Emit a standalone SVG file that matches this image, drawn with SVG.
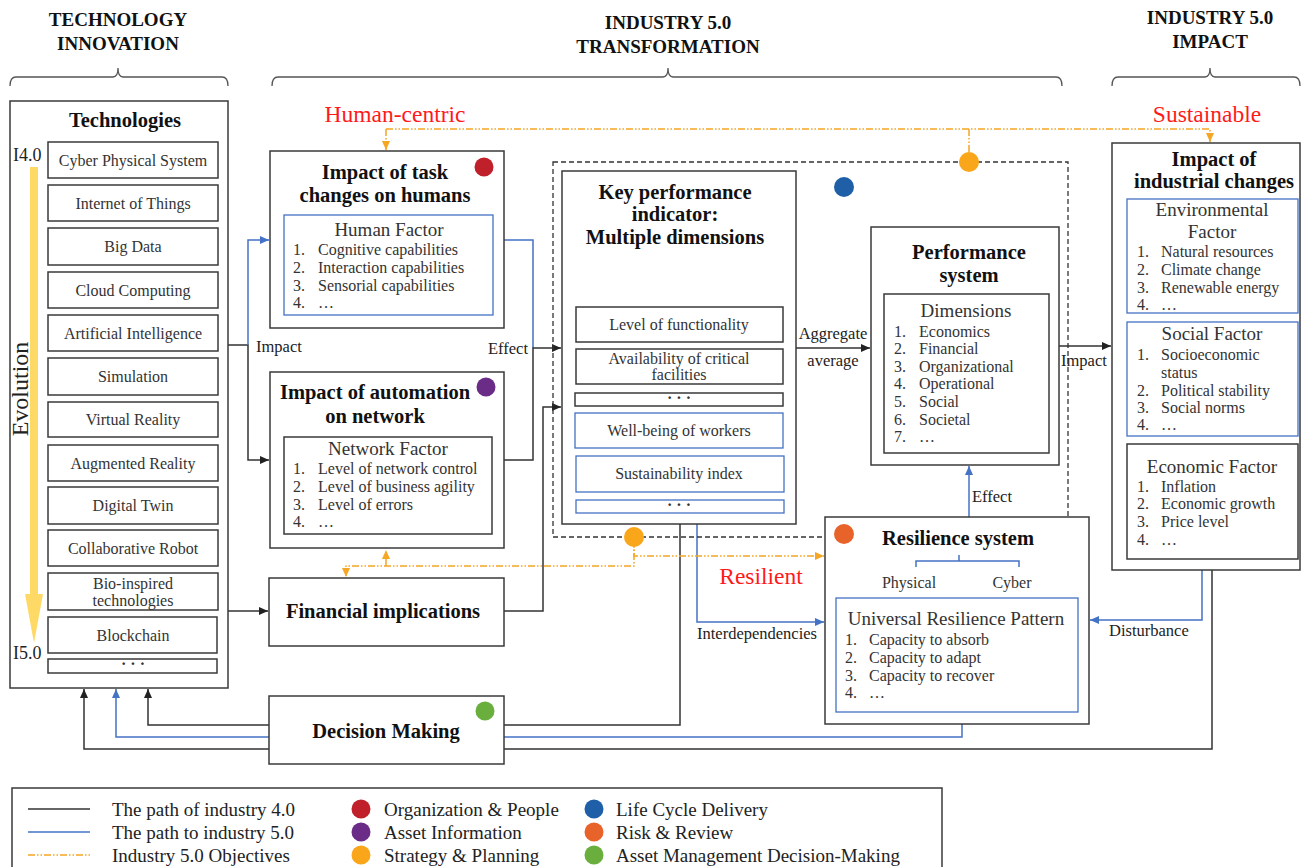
<svg xmlns="http://www.w3.org/2000/svg" width="1307" height="867" viewBox="0 0 1307 867">
<defs>
<style>
.box{fill:#fff;stroke:#3a3a3a;stroke-width:1.5}
.bbox{fill:#fff;stroke:#4472C4;stroke-width:1.3}
.t{font-family:"Liberation Serif",serif;fill:#222}
.hd{font-family:"Liberation Serif",serif;font-weight:bold;font-size:19px;fill:#111;text-anchor:middle}
.ti{font-family:"Liberation Serif",serif;font-weight:bold;font-size:20.5px;fill:#111;text-anchor:middle}
.it{font-family:"Liberation Serif",serif;font-size:16px;fill:#333;text-anchor:middle}
.li{font-family:"Liberation Serif",serif;font-size:16px;fill:#333}
.ft{font-family:"Liberation Serif",serif;font-size:19px;fill:#333;text-anchor:middle}
.lb{font-family:"Liberation Serif",serif;font-size:16.5px;fill:#222}
.red{font-family:"Liberation Serif",serif;font-size:23.5px;fill:#ff1a1a;text-anchor:middle}
.lg{font-family:"Liberation Serif",serif;font-size:19px;fill:#222}
.k{stroke:#333;stroke-width:1.5;fill:none}
.bl{stroke:#4472C4;stroke-width:1.5;fill:none}
.or{stroke:#F5A623;stroke-width:1.5;fill:none;stroke-dasharray:7 2 1.5 2 1.5 2}
.br{stroke:#555;stroke-width:1.3;fill:none}
</style>
<marker id="ak" viewBox="0 0 9 8" refX="9" refY="4" markerWidth="9" markerHeight="8" markerUnits="userSpaceOnUse" orient="auto"><path d="M0,0 L9,4 L0,8 z" fill="#222"/></marker>
<marker id="ab" viewBox="0 0 9 8" refX="9" refY="4" markerWidth="9" markerHeight="8" markerUnits="userSpaceOnUse" orient="auto"><path d="M0,0 L9,4 L0,8 z" fill="#4472C4"/></marker>
<marker id="ao" viewBox="0 0 9 8" refX="9" refY="4" markerWidth="9" markerHeight="8" markerUnits="userSpaceOnUse" orient="auto"><path d="M0,0 L9,4 L0,8 z" fill="#F5A623"/></marker>
</defs>
<rect width="1307" height="867" fill="#fff"/>

<!-- headers -->
<g id="headers">
<text class="hd" x="118" y="25.5">TECHNOLOGY</text>
<text class="hd" x="118" y="49.5">INNOVATION</text>
<text class="hd" x="668" y="28.5">INDUSTRY 5.0</text>
<text class="hd" x="668" y="52.5">TRANSFORMATION</text>
<text class="hd" x="1210" y="23.5">INDUSTRY 5.0</text>
<text class="hd" x="1210" y="47.5">IMPACT</text>
<path class="br" d="M10,86 Q10,77 16,77 L113,77 Q118,77 118,68 Q118,77 123,77 L222,77 Q228,77 228,86"/>
<path class="br" d="M272,86 Q272,77 278,77 L663,77 Q668,77 668,68 Q668,77 673,77 L1056,77 Q1062,77 1062,86"/>
<path class="br" d="M1112,86 Q1112,77 1118,77 L1205,77 Q1210,77 1210,68 Q1210,77 1215,77 L1294,77 Q1300,77 1300,86"/>
</g>

<!-- connectors -->
<g id="connectors">
<path class="k" d="M228,345 H248 V460 H269" marker-end="url(#ak)"/>
<path class="bl" d="M248,345 V240 H269" marker-end="url(#ab)"/>
<path class="bl" d="M504,240 H533 V348"/>
<path class="k" d="M504,460 H533 V348 H561" marker-end="url(#ak)"/>
<path class="k" d="M504,611 H543 V407 H561" marker-end="url(#ak)"/>
<path class="k" d="M228,611 H268" marker-end="url(#ak)"/>
<path class="k" d="M796,348 H870" marker-end="url(#ak)"/>
<path class="k" d="M1059,346 H1111" marker-end="url(#ak)"/>
<path class="bl" d="M969,517 V466" marker-end="url(#ab)"/>
<path class="bl" d="M697,524 V622 H824" marker-end="url(#ab)"/>
<path class="k" d="M680,524 V725 H148 V689" marker-end="url(#ak)"/>
<path class="bl" d="M962,724 V737 H116 V689" marker-end="url(#ab)"/>
<path class="k" d="M1212,570 V749 H84 V689" marker-end="url(#ak)"/>
<path class="bl" d="M1202,570 V620 H1090" marker-end="url(#ab)"/>
<path class="or" d="M386,129 V150" marker-end="url(#ao)"/>
<path class="or" d="M386,129 H1210 V142" marker-end="url(#ao)"/>
<path class="or" d="M969,152 V129"/>
<path class="or" d="M634,537 V556 H824" marker-end="url(#ao)"/>
<path class="or" d="M634,537 V566 H346 V577" marker-end="url(#ao)"/>
<path class="or" d="M386,566 V550" marker-end="url(#ao)"/>
<text class="lb" x="256" y="351.5">Impact</text>
<text class="lb" x="528" y="353.5" text-anchor="end">Effect</text>
<text class="lb" x="833" y="338.5" text-anchor="middle">Aggregate</text>
<text class="lb" x="833" y="366" text-anchor="middle">average</text>
<text class="lb" x="1061" y="365.5">Impact</text>
<text class="lb" x="972" y="501.5">Effect</text>
<text class="lb" x="697" y="638.5">Interdependencies</text>
<text class="lb" x="1109" y="635.5">Disturbance</text>
<text class="red" x="395" y="122">Human-centric</text>
<text class="red" x="1207" y="122">Sustainable</text>
<text class="red" x="761" y="584">Resilient</text>
</g>

<!-- technologies -->
<g id="technologies">
<rect class="box" x="10" y="101" width="218" height="587"/>
<text class="ti" x="125" y="127">Technologies</text>
<polygon points="30,167 38,167 38,594 43,594 34,643 25,594 30,594" fill="#FFD966"/>
<text class="t" x="13" y="161" font-size="18">I4.0</text>
<text class="t" x="13" y="659" font-size="18">I5.0</text>
<text class="t" font-size="24" text-anchor="middle" transform="translate(27.5,389) rotate(-90)">Evolution</text>
<rect class="box" x="48" y="142" width="170" height="36"/><text class="it" x="133" y="165.5">Cyber Physical System</text>
<rect class="box" x="48" y="185" width="170" height="36"/><text class="it" x="133" y="208.5">Internet of Things</text>
<rect class="box" x="48" y="228" width="170" height="37"/><text class="it" x="133" y="252">Big Data</text>
<rect class="box" x="48" y="272" width="170" height="36"/><text class="it" x="133" y="295.5">Cloud Computing</text>
<rect class="box" x="48" y="315" width="170" height="36"/><text class="it" x="133" y="338.5">Artificial Intelligence</text>
<rect class="box" x="48" y="358" width="170" height="37"/><text class="it" x="133" y="382">Simulation</text>
<rect class="box" x="48" y="402" width="170" height="35"/><text class="it" x="133" y="424.5">Virtual Reality</text>
<rect class="box" x="48" y="445" width="170" height="36"/><text class="it" x="133" y="468.5">Augmented Reality</text>
<rect class="box" x="48" y="487" width="170" height="37"/><text class="it" x="133" y="511">Digital Twin</text>
<rect class="box" x="48" y="530" width="170" height="36"/><text class="it" x="133" y="553.5">Collaborative Robot</text>
<rect class="box" x="48" y="573" width="170" height="37"/><text class="it" x="133" y="588.5">Bio-inspired</text><text class="it" x="133" y="606">technologies</text>
<rect class="box" x="48" y="617" width="169" height="36"/><text class="it" x="133" y="640.5">Blockchain</text>
<rect class="box" x="48" y="659" width="169" height="14"/><text class="it" x="133" y="669" font-weight="bold">· · ·</text>
</g>

<!-- human -->
<g id="human">
<rect class="box" x="270" y="151" width="234" height="177"/>
<text class="ti" x="385" y="179">Impact of task</text>
<text class="ti" x="385" y="202">changes on humans</text>
<circle cx="484" cy="167" r="9.5" fill="#C0202A"/>
<rect class="bbox" x="284" y="215" width="209" height="100"/>
<text class="ft" x="389" y="236">Human Factor</text>
<text class="li" x="293" y="254.5">1.</text><text class="li" x="318" y="254.5">Cognitive capabilities</text>
<text class="li" x="293" y="272.5">2.</text><text class="li" x="318" y="272.5">Interaction capabilities</text>
<text class="li" x="293" y="290.5">3.</text><text class="li" x="318" y="290.5">Sensorial capabilities</text>
<text class="li" x="293" y="308">4.</text><text class="li" x="318" y="308">…</text>
</g>

<!-- automation -->
<g id="automation">
<rect class="box" x="270" y="372" width="234" height="176"/>
<text class="ti" x="375" y="399">Impact of automation</text>
<text class="ti" x="375" y="422.5">on network</text>
<circle cx="486" cy="387" r="9.5" fill="#6A2C86"/>
<rect class="box" x="284" y="437" width="208" height="97" stroke-width="1.3"/>
<text class="ft" x="388" y="454.5">Network Factor</text>
<text class="li" x="293" y="473.5">1.</text><text class="li" x="318" y="473.5">Level of network control</text>
<text class="li" x="293" y="491.5">2.</text><text class="li" x="318" y="491.5">Level of business agility</text>
<text class="li" x="293" y="509.5">3.</text><text class="li" x="318" y="509.5">Level of errors</text>
<text class="li" x="293" y="527">4.</text><text class="li" x="318" y="527">…</text>
</g>

<!-- financial -->
<g id="financial">
<rect class="box" x="269" y="578" width="235" height="68"/>
<text class="ti" x="383" y="618">Financial implications</text>
</g>

<!-- decision -->
<g id="decision">
<rect class="box" x="269" y="696" width="235" height="68"/>
<text class="ti" x="386" y="738">Decision Making</text>
<circle cx="485" cy="711" r="9.5" fill="#6AAF3D"/>
</g>

<!-- group dashed -->
<g id="lifecycle">
<rect x="553" y="162" width="515" height="375" fill="none" stroke="#333" stroke-width="1.3" stroke-dasharray="5 3"/>
<circle cx="844" cy="187" r="10" fill="#1F5FA8"/>
</g>

<!-- kpi -->
<g id="kpi">
<rect class="box" x="562" y="171" width="234" height="353"/>
<text class="ti" x="675" y="199">Key performance</text>
<text class="ti" x="675" y="221">indicator:</text>
<text class="ti" x="675" y="244">Multiple dimensions</text>
<rect class="box" x="576" y="307" width="207" height="35" stroke-width="1.3"/><text class="it" x="679" y="329.5">Level of functionality</text>
<rect class="box" x="576" y="349" width="207" height="35" stroke-width="1.3"/><text class="it" x="679" y="363.5">Availability of critical</text><text class="it" x="679" y="380">facilities</text>
<rect class="box" x="575" y="393" width="208" height="13" stroke-width="1.3"/><text class="it" x="679" y="403" font-weight="bold">· · ·</text>
<rect class="bbox" x="575" y="413" width="208" height="35"/><text class="it" x="679" y="435.5">Well-being of workers</text>
<rect class="bbox" x="576" y="456" width="208" height="36"/><text class="it" x="679" y="478.5">Sustainability index</text>
<rect class="bbox" x="576" y="500" width="208" height="13"/><text class="it" x="679" y="510" font-weight="bold">· · ·</text>
</g>

<!-- performance -->
<g id="performance">
<rect class="box" x="871" y="227" width="188" height="238"/>
<text class="ti" x="969" y="259">Performance</text>
<text class="ti" x="969" y="282">system</text>
<rect class="box" x="884" y="294" width="165" height="159" stroke-width="1.3"/>
<text class="ft" x="966" y="317">Dimensions</text>
<text class="li" x="894" y="336.5">1.</text><text class="li" x="919" y="336.5">Economics</text>
<text class="li" x="894" y="353.5">2.</text><text class="li" x="919" y="353.5">Financial</text>
<text class="li" x="894" y="371.5">3.</text><text class="li" x="919" y="371.5">Organizational</text>
<text class="li" x="894" y="388.5">4.</text><text class="li" x="919" y="388.5">Operational</text>
<text class="li" x="894" y="407">5.</text><text class="li" x="919" y="407">Social</text>
<text class="li" x="894" y="424.5">6.</text><text class="li" x="919" y="424.5">Societal</text>
<text class="li" x="894" y="442">7.</text><text class="li" x="919" y="442">…</text>
</g>

<!-- resilience -->
<g id="resilience">
<rect class="box" x="825" y="517" width="264" height="207"/>
<text class="ti" x="958" y="545">Resilience system</text>
<circle cx="844" cy="534" r="10" fill="#E8632A"/>
<path class="bl" d="M959,555 V561 M916,567 V561 H1019 V567" stroke-width="1.3"/>
<text class="it" x="909" y="587.5" font-size="17">Physical</text>
<text class="it" x="1012" y="587.5" font-size="17">Cyber</text>
<rect class="bbox" x="836" y="598" width="242" height="114"/>
<text class="ft" x="956" y="625">Universal Resilience Pattern</text>
<text class="li" x="845" y="644.5">1.</text><text class="li" x="869" y="644.5">Capacity to absorb</text>
<text class="li" x="845" y="662.5">2.</text><text class="li" x="869" y="662.5">Capacity to adapt</text>
<text class="li" x="845" y="680.5">3.</text><text class="li" x="869" y="680.5">Capacity to recover</text>
<text class="li" x="845" y="698">4.</text><text class="li" x="869" y="698">…</text>
</g>

<!-- orange dots on objectives line -->
<g id="strategy">
<circle cx="969" cy="162" r="10" fill="#F9A61A"/>
<circle cx="634" cy="537" r="10" fill="#F9A61A"/>
</g>

<!-- impact -->
<g id="impact">
<rect class="box" x="1112" y="143" width="188" height="427"/>
<text class="ti" x="1214" y="166">Impact of</text>
<text class="ti" x="1214" y="188">industrial changes</text>
<rect class="bbox" x="1127" y="199" width="171" height="114"/>
<text class="ft" x="1212" y="216">Environmental</text>
<text class="ft" x="1212" y="238">Factor</text>
<text class="li" x="1137" y="256.5">1.</text><text class="li" x="1161" y="256.5">Natural resources</text>
<text class="li" x="1137" y="274.5">2.</text><text class="li" x="1161" y="274.5">Climate change</text>
<text class="li" x="1137" y="293">3.</text><text class="li" x="1161" y="293">Renewable energy</text>
<text class="li" x="1137" y="310">4.</text><text class="li" x="1161" y="310">…</text>
<rect class="bbox" x="1127" y="322" width="171" height="114"/>
<text class="ft" x="1212" y="340">Social Factor</text>
<text class="li" x="1137" y="359.5">1.</text><text class="li" x="1161" y="359.5">Socioeconomic</text>
<text class="li" x="1161" y="377.5">status</text>
<text class="li" x="1137" y="395.5">2.</text><text class="li" x="1161" y="395.5">Political stability</text>
<text class="li" x="1137" y="412.5">3.</text><text class="li" x="1161" y="412.5">Social norms</text>
<text class="li" x="1137" y="430">4.</text><text class="li" x="1161" y="430">…</text>
<rect class="box" x="1127" y="444" width="171" height="115" stroke-width="1.3"/>
<text class="ft" x="1212" y="473">Economic Factor</text>
<text class="li" x="1137" y="491.5">1.</text><text class="li" x="1161" y="491.5">Inflation</text>
<text class="li" x="1137" y="508.5">2.</text><text class="li" x="1161" y="508.5">Economic growth</text>
<text class="li" x="1137" y="526.5">3.</text><text class="li" x="1161" y="526.5">Price level</text>
<text class="li" x="1137" y="545">4.</text><text class="li" x="1161" y="545">…</text>
</g>

<!-- legend -->
<g id="legend">
<rect class="box" x="12" y="788" width="930" height="90"/>
<line x1="28" y1="809" x2="90" y2="809" stroke="#333" stroke-width="1.5"/>
<line x1="28" y1="832" x2="90" y2="832" stroke="#4472C4" stroke-width="1.5"/>
<line x1="28" y1="855" x2="90" y2="855" class="or"/>
<text class="lg" x="112" y="815.5">The path of industry 4.0</text>
<text class="lg" x="112" y="838.5">The path to industry 5.0</text>
<text class="lg" x="112" y="861.5">Industry 5.0 Objectives</text>
<circle cx="361" cy="809" r="9.5" fill="#C0202A"/>
<circle cx="361" cy="832" r="9.5" fill="#6A2C86"/>
<circle cx="361" cy="855" r="9.5" fill="#F9A61A"/>
<text class="lg" x="384" y="815.5">Organization &amp; People</text>
<text class="lg" x="384" y="838.5">Asset Information</text>
<text class="lg" x="384" y="861.5">Strategy &amp; Planning</text>
<circle cx="594" cy="809" r="9.5" fill="#1F5FA8"/>
<circle cx="594" cy="832" r="9.5" fill="#E8632A"/>
<circle cx="594" cy="855" r="9.5" fill="#6AAF3D"/>
<text class="lg" x="616" y="815.5">Life Cycle Delivery</text>
<text class="lg" x="616" y="838.5">Risk &amp; Review</text>
<text class="lg" x="616" y="861.5">Asset Management Decision-Making</text>
</g>
</svg>
